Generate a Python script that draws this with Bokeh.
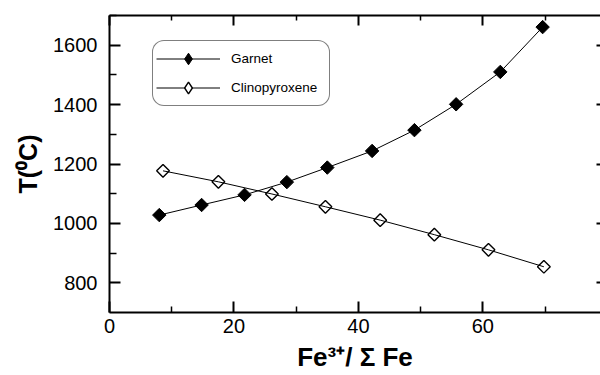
from bokeh.plotting import figure
from bokeh.models import LinearAxis, FixedTicker, Range1d, Legend, LegendItem
from bokeh.embed import file_html
from bokeh.resources import INLINE
import numpy as np

# ---- data ----
garnet_x = [8.0, 14.8, 21.7, 28.5, 35.0, 42.2, 49.0, 55.7, 62.8, 69.6]
garnet_t = [1028, 1062, 1096, 1139, 1188, 1244, 1314, 1401, 1510, 1661]
cpx_x = [8.6, 17.5, 26.1, 34.7, 43.5, 52.2, 60.9, 69.8]
cpx_t = [1177, 1140, 1099, 1056, 1011, 962, 911, 854]

x_major = [0, 20, 40, 60]
x_minor = [10, 30, 50, 70]
y_major = [800, 1000, 1200, 1400, 1600]
y_minor = [900, 1100, 1300, 1500, 1700]

FONT = "Liberation Sans"

p = figure(width=600, height=375, output_backend="svg", toolbar_location=None,
           x_range=Range1d(0, 78.9), y_range=Range1d(700, 1700),
           min_border_left=109, min_border_right=0, min_border_top=15,
           min_border_bottom=63)
p.outline_line_color = None
p.grid.grid_line_color = None
p.background_fill_color = "white"
p.border_fill_color = "white"

def style_axis(ax, major, minor, tick_in, minor_in, labels=True):
    ax.ticker = FixedTicker(ticks=major, minor_ticks=minor)
    ax.axis_line_width = 2
    ax.axis_line_color = "black"
    ax.major_tick_in = tick_in
    ax.major_tick_out = 0
    ax.minor_tick_in = minor_in
    ax.minor_tick_out = 0
    ax.major_tick_line_width = 2
    ax.minor_tick_line_width = 1.5
    ax.major_tick_line_color = "black"
    ax.minor_tick_line_color = "black"
    if labels:
        ax.major_label_text_font = FONT
        ax.major_label_text_font_size = "20px"
        ax.major_label_text_color = "black"
    else:
        ax.major_label_overrides = {t: "" for t in major}
        ax.major_label_standoff = 0
        ax.axis_label_standoff = 0

xa = p.xaxis[0]
style_axis(xa, x_major, x_minor, 11, 6)
xa.major_label_standoff = 6
xa.axis_label = "Fe³⁺/ Σ Fe"
xa.axis_label_text_font = FONT
xa.axis_label_text_font_style = "bold"
xa.axis_label_text_font_size = "26px"
xa.axis_label_text_color = "black"
xa.axis_label_standoff = 6

ya = p.yaxis[0]
style_axis(ya, y_major, y_minor, 11, 7)
ya.major_label_standoff = 12
ya.axis_label = "T(⁰C)"
ya.axis_label_text_font = FONT
ya.axis_label_text_font_style = "bold"
ya.axis_label_text_font_size = "25px"
ya.axis_label_text_color = "black"
ya.axis_label_standoff = 8

top = LinearAxis()
style_axis(top, x_major, x_minor, 10, 5, labels=False)
p.add_layout(top, "above")

right = LinearAxis()
style_axis(right, y_major, [], 4, 0, labels=False)
right.axis_line_color = None
right.minor_tick_line_color = None
p.add_layout(right, "right")

ang = np.pi / 4
l1 = p.line(garnet_x, garnet_t, line_color="black", line_width=1)
s1 = p.scatter(garnet_x, garnet_t, marker="square", angle=ang, size=9.5,
               fill_color="black", line_color="black", line_width=1)
s2 = p.scatter(cpx_x, cpx_t, marker="square", angle=ang, size=9,
               fill_color="white", line_color="black", line_width=1.4)
l2 = p.line(cpx_x, cpx_t, line_color="black", line_width=1)

# legend-only diamond glyphs: zero-size in the plot, drawn only in the legend
d1 = p.scatter(garnet_x[:1], garnet_t[:1], marker="diamond", size=0,
               fill_color="black", line_color="black", line_width=1)
d2 = p.scatter(cpx_x[:1], cpx_t[:1], marker="diamond", size=0,
               fill_color="white", line_color="black", line_width=1.4)

legend = Legend(items=[LegendItem(label="Garnet", renderers=[l1, d1]),
                       LegendItem(label="Clinopyroxene", renderers=[l2, d2])],
                location=(43, 206))
legend.padding = 3
legend.spacing = 0
legend.glyph_height = 29
legend.glyph_width = 64
legend.label_height = 29
legend.label_width = 95
legend.label_standoff = 11
legend.label_text_font = FONT
legend.label_text_font_size = "13.5px"
legend.label_text_color = "black"
legend.border_line_color = "black"
legend.border_line_width = 1
legend.background_fill_alpha = 1
legend.margin = 0
if "border_radius" in Legend.properties():
    legend.border_radius = 12
p.add_layout(legend)

open("out.html", "w").write(file_html(p, INLINE))
